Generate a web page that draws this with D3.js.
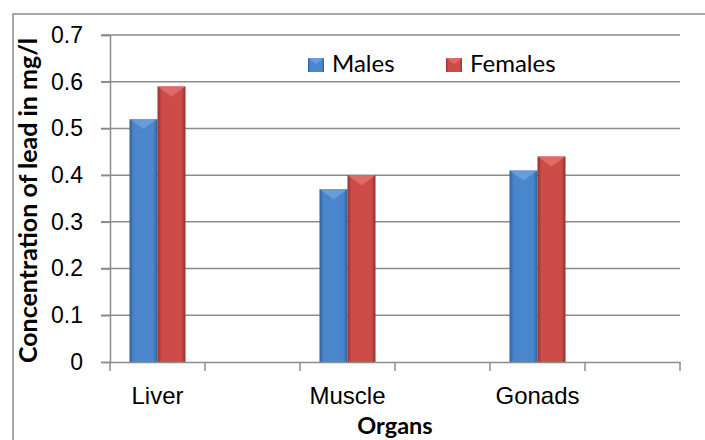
<!DOCTYPE html>
<html>
<head>
<meta charset="utf-8">
<script src="https://cdn.jsdelivr.net/npm/d3@7"></script>
<style>
  body { margin: 0; background: #fff; }
  svg { display: block; font-family: Lato, "Open Sans", sans-serif; }
</style>
</head>
<body>
<svg id="chart"></svg>
<script>
// data
const organs = ["Liver", "gap1", "Muscle", "gap2", "Gonads", "gap3"];
const organLabels = ["Liver", "", "Muscle", "", "Gonads", ""];
const seriesNames = ["Males", "Females"];
const males = [0.52, null, 0.37, null, 0.41, null];
const females = [0.59, null, 0.40, null, 0.44, null];
const yTicks = [0, 0.1, 0.2, 0.3, 0.4, 0.5, 0.6, 0.7];

const width = 705, height = 440;
const margin = {top: 35, right: 25, bottom: 78, left: 110};
const innerWidth = width - margin.left - margin.right;
const innerHeight = height - margin.top - margin.bottom;

const svg = d3.select("#chart").attr("width", width).attr("height", height);

// outer chart border (only left and top edges fall inside the picture)
svg.append("path")
	.attr("d", `M13,${height}L13,14L${width},14`)
	.attr("fill", "none").attr("stroke", "#8c8c8c").attr("stroke-width", 1.5);

const colors = {
	Males: {edge: "#2f5f9c", mid: "#4a86cc", top: "#6fa3e0"},
	Females: {edge: "#8f3331", mid: "#cd4c49", top: "#e27371"}
};

const defs = svg.append("defs");
seriesNames.forEach(name => {
	const c = colors[name];
	const grad = defs.append("linearGradient")
		.attr("id", "grad-" + name)
		.attr("x1", "0").attr("x2", "1").attr("y1", "0").attr("y2", "0");
	grad.append("stop").attr("offset", "0%").attr("stop-color", c.edge);
	grad.append("stop").attr("offset", "15%").attr("stop-color", c.mid);
	grad.append("stop").attr("offset", "85%").attr("stop-color", c.mid);
	grad.append("stop").attr("offset", "100%").attr("stop-color", c.edge);
});

const x = d3.scaleBand()
	.domain(organs)
	.range([0, innerWidth]);

const x1 = d3.scaleBand()
	.domain(seriesNames)
	.range([x.bandwidth() / 2 - 28, x.bandwidth() / 2 + 28]);

const y = d3.scaleLinear()
	.domain([0, 0.7])
	.range([innerHeight, 0]);

const g = svg.append("g")
	.attr("transform", `translate(${margin.left},${margin.top})`);

// gridlines
g.append("g")
	.selectAll("line")
	.data(yTicks.slice(1))
	.enter().append("line")
	.attr("x1", -9).attr("x2", innerWidth)
	.attr("y1", d => y(d)).attr("y2", d => y(d))
	.attr("stroke", "#8c8c8c").attr("stroke-width", 1.5);

// bars
const rows = organs.map((o, i) => ({organ: o, Males: males[i], Females: females[i]}))
	.filter(d => d.Males !== null);

const groups = g.selectAll("g.organ")
	.data(rows)
	.enter().append("g")
	.attr("class", "organ")
	.attr("transform", d => `translate(${x(d.organ)},0)`);

const bars = groups.selectAll("g.bar")
	.data(d => seriesNames.map(s => ({key: s, value: d[s]})))
	.enter().append("g")
	.attr("class", "bar");

bars.append("rect")
	.attr("x", d => x1(d.key))
	.attr("y", d => y(d.value))
	.attr("width", x1.bandwidth())
	.attr("height", d => y(0) - y(d.value))
	.attr("fill", d => `url(#grad-${d.key})`);

// top bevel
bars.append("path")
	.attr("d", d => {
		const x0 = x1(d.key), w = x1.bandwidth(), top = y(d.value);
		return `M${x0},${top}L${x0 + w},${top}L${x0 + w / 2},${top + 10}Z`;
	})
	.attr("fill", d => colors[d.key].top)
	.attr("opacity", 0.8);

// y axis
const yAxis = g.append("g")
	.call(d3.axisLeft(y).tickValues(yTicks).tickFormat(d => d === 0 ? "0" : d3.format(".1f")(d)).tickSize(9).tickPadding(18));
yAxis.select(".domain").attr("stroke", "#8c8c8c").attr("stroke-width", 1.5);
yAxis.selectAll(".tick line").attr("stroke", "#8c8c8c").attr("stroke-width", 1.5);
yAxis.selectAll(".tick text")
	.attr("fill", "#000")
	.style("font-size", "23px");

// x axis
const xAxis = g.append("g")
	.attr("transform", `translate(0,${innerHeight})`)
	.call(d3.axisBottom(x).tickSize(0).tickPadding(25)
		.tickFormat((d, i) => organLabels[i]));
xAxis.select(".domain").attr("stroke", "#8c8c8c").attr("stroke-width", 1.5);
xAxis.selectAll(".tick text")
	.attr("fill", "#000")
	.style("font-size", "24px");
xAxis.selectAll(".tick").filter((d, i) => organLabels[i] === "").remove();

// x ticks at band boundaries
g.append("g")
	.selectAll("line")
	.data(d3.range(organs.length + 1))
	.enter().append("line")
	.attr("x1", i => i * x.step()).attr("x2", i => i * x.step())
	.attr("y1", innerHeight).attr("y2", innerHeight + 9)
	.attr("stroke", "#8c8c8c").attr("stroke-width", 1.5);

// axis titles
svg.append("text")
	.attr("x", margin.left + innerWidth / 2)
	.attr("y", 434)
	.attr("text-anchor", "middle")
	.style("font-size", "23.5px")
	.style("font-weight", "bold")
	.text("Organs");

svg.append("text")
	.attr("transform", `translate(37,${margin.top + innerHeight / 2 + 2}) rotate(-90)`)
	.attr("text-anchor", "middle")
	.style("font-size", "25px")
	.style("font-weight", "bold")
	.text("Concentration of lead in mg/l");

// legend
const legendX = [308, 446];
const legend = svg.append("g")
	.selectAll("g")
	.data(seriesNames)
	.enter().append("g")
	.attr("transform", (d, i) => `translate(${legendX[i]},58)`);

legend.append("rect")
	.attr("width", 16).attr("height", 14)
	.attr("fill", d => `url(#grad-${d})`);
legend.append("path")
	.attr("d", "M0,0L16,0L8,6Z")
	.attr("fill", d => colors[d].top)
	.attr("opacity", 0.8);
legend.append("text")
	.attr("x", 24).attr("y", 14)
	.style("font-size", "24px")
	.text(d => d);
</script>
</body>
</html>
